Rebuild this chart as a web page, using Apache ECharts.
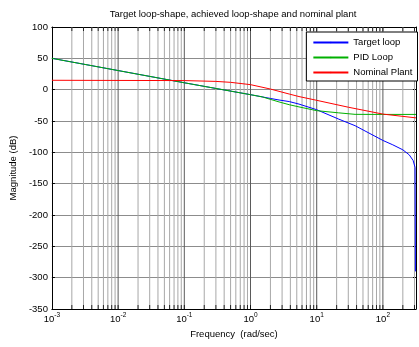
<!DOCTYPE html>
<html>
<head>
<meta charset="utf-8">
<script src="https://cdn.jsdelivr.net/npm/echarts@6/dist/echarts.min.js"></script>
<style>html,body{margin:0;padding:0;background:#fff}#c{width:419px;height:347px}</style>
</head>
<body>
<div id="c"></div>
<script>
// ---- data ----
const targetFreq = [0.001, 0.01, 0.1, 1, 2, 2.7, 3.85, 5.4, 10, 21.5, 38, 100, 141, 200, 250, 286, 306, 310];
const targetMag  = [50, 30.5, 11, -8, -14, -16.5, -19, -23, -32, -47, -57.5, -81, -88, -96, -104, -113, -124, -290];
const pidFreq = [0.001, 0.01, 0.1, 1, 1.5, 2.7, 3.85, 5.4, 10, 21.5, 38, 100, 316];
const pidMag  = [50, 30.5, 11, -8, -11.5, -19.6, -24, -27.5, -33.5, -37, -39.4, -39.5, -39.5];
const plantFreq = [0.001, 0.1, 0.3, 0.5, 1, 2, 3.85, 5.4, 10, 30, 100, 316];
const plantMag  = [15, 14.5, 13.2, 11.7, 8, 1, -7, -11, -17, -28, -39, -45];
const seriesNames = ['Target loop', 'PID Loop', 'Nominal Plant'];
const decades = [-3, -2, -1, 0, 1, 2];
const multipliers = [1, 2, 3, 4, 5, 6, 7, 8, 9];
const xMin = 0.001, xMax = 316.2;
const yMin = -350, yMax = 100, yStep = 50;

const isDecade = v => Math.abs(Math.log10(v) - Math.round(Math.log10(v))) < 1e-6;
const gridFreqs = [];
decades.forEach(d => multipliers.forEach(m => {
  const v = m * Math.pow(10, d);
  if (v > xMin * 1.0001 && v <= xMax) gridFreqs.push(+v.toPrecision(6));
}));
const gridLinesData = (pred) => {
  const out = [];
  gridFreqs.filter(pred).forEach(v => { out.push([v, yMin], [v, yMax], '-'); });
  return out;
};

const zip = (f, m) => f.map((v, i) => [v, m[i]]);
const FONT = 'Liberation Sans, Arial, sans-serif';
const FS = 9.5;

const chart = echarts.init(document.getElementById('c'), null, {renderer: 'canvas'});
const xCommon = {
  type: 'log', logBase: 10, min: xMin, max: xMax,
  axisLine: {show: true, onZero: false, lineStyle: {color: '#000', width: 1}},
  axisTick: {show: false}, splitLine: {show: false}, minorTick: {show: false}
};
chart.setOption({
  animation: false,
  backgroundColor: '#fff',
  title: {
    text: 'Target loop-shape, achieved loop-shape and nominal plant',
    left: 233, textAlign: 'center', top: 9, padding: 0,
    textStyle: {fontSize: FS, fontWeight: 'normal', color: '#000', fontFamily: FONT}
  },
  legend: {
    data: seriesNames, orient: 'vertical', right: 1.5, top: 32,
    padding: [5, 5, 3, 6], itemGap: 4, itemWidth: 35, itemHeight: 2,
    textStyle: {fontSize: FS, color: '#000', lineHeight: 11, fontFamily: FONT},
    borderColor: '#000', borderWidth: 1, borderRadius: 0, backgroundColor: '#fff'
  },
  grid: {left: 49, right: 1, top: 27, bottom: 38, containLabel: false},
  xAxis: [
    Object.assign({}, xCommon, {
      position: 'bottom',
      name: 'Frequency  (rad/sec)', nameLocation: 'middle', nameGap: 14,
      nameTextStyle: {fontSize: FS, color: '#000', fontFamily: FONT},
      axisLabel: {
        margin: 3, color: '#000', fontFamily: FONT,
        formatter: v => {
          if (!isDecade(v)) return '';
          return '{b|10}{s|' + Math.round(Math.log10(v)) + '}';
        },
        rich: {
          b: {fontSize: FS, color: '#000', fontFamily: FONT},
          s: {fontSize: 6.5, color: '#000', fontFamily: FONT, padding: [0, 0, 7, 0]}
        }
      }
    }),
    Object.assign({}, xCommon, {position: 'top', axisLabel: {show: false}})
  ],
  yAxis: [
    {
      type: 'value', min: yMin, max: yMax, interval: yStep, position: 'left',
      name: 'Magnitude (dB)', nameLocation: 'middle', nameGap: 33, nameRotate: 90,
      nameTextStyle: {fontSize: FS, color: '#000', fontFamily: FONT},
      axisLine: {show: true, onZero: false, lineStyle: {color: '#000'}},
      axisTick: {show: true, inside: true, length: 3, lineStyle: {color: '#000'}},
      axisLabel: {fontSize: FS, color: '#000', margin: 4, fontFamily: FONT},
      splitLine: {show: true, lineStyle: {color: '#8c8c8c', width: 1}}
    },
    {
      type: 'value', min: yMin, max: yMax, interval: yStep, position: 'right',
      axisLine: {show: true, onZero: false, lineStyle: {color: '#000'}},
      axisTick: {show: true, inside: true, length: 3, lineStyle: {color: '#000'}},
      axisLabel: {show: false}, splitLine: {show: false}
    }
  ],
  series: [
    {name: 'gridMinor', type: 'line', z: 1, silent: true, symbol: 'none', connectNulls: false,
     lineStyle: {color: '#a8a8a8', width: 1}, data: gridLinesData(v => !isDecade(v))},
    {name: 'gridMajor', type: 'line', z: 1, silent: true, symbol: 'none', connectNulls: false,
     lineStyle: {color: '#5a5a5a', width: 1}, data: gridLinesData(isDecade)},
    {name: 'ticksTop', type: 'scatter', z: 4, silent: true, symbol: 'rect', symbolSize: [1, 4], symbolOffset: [0, 2],
     itemStyle: {color: '#000'}, data: gridFreqs.map(v => [v, yMax])},
    {name: 'ticksBottom', type: 'scatter', z: 4, silent: true, symbol: 'rect', symbolSize: [1, 4], symbolOffset: [0, -2],
     itemStyle: {color: '#000'}, data: gridFreqs.map(v => [v, yMin])},
    {name: seriesNames[0], type: 'line', z: 3, symbol: 'none', data: zip(targetFreq, targetMag),
     lineStyle: {color: '#0000ff', width: 1}, itemStyle: {color: '#0000ff'}},
    {name: seriesNames[1], type: 'line', z: 3, symbol: 'none', data: zip(pidFreq, pidMag),
     lineStyle: {color: '#00b000', width: 1}, itemStyle: {color: '#00b000'}},
    {name: seriesNames[2], type: 'line', z: 3, symbol: 'none', data: zip(plantFreq, plantMag),
     lineStyle: {color: '#ff0000', width: 1}, itemStyle: {color: '#ff0000'}}
  ]
});
</script>
</body>
</html>
